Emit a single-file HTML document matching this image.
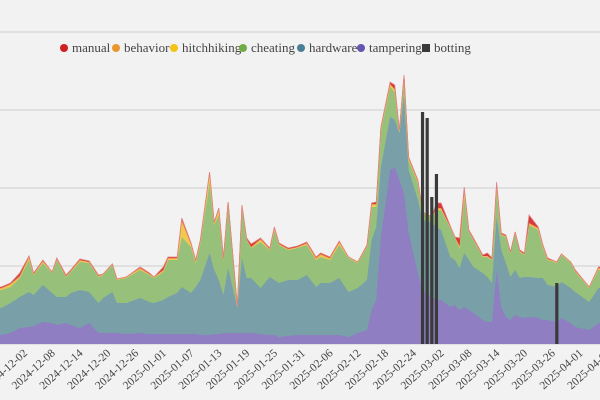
<!DOCTYPE html>
<html><head><meta charset="utf-8"><style>
html,body{margin:0;padding:0;background:#f2f2f2;}
svg{display:block;font-family:"Liberation Serif",serif;}
</style></head><body>
<svg id="chart" width="600" height="400" viewBox="0 0 600 400" xmlns="http://www.w3.org/2000/svg">
<rect x="0" y="0" width="600" height="400" fill="#f2f2f2"/>
<g id="grid"></g>
<g id="areas"></g>
<g id="bars"></g>
<g id="xaxis"></g>
<g id="legend" font-size="13" fill="#444"></g>
</svg>
<script>
const dates = ["2024-11-25","2024-11-26","2024-11-28","2024-11-30","2024-12-02","2024-12-03","2024-12-05","2024-12-07","2024-12-08","2024-12-10","2024-12-11","2024-12-13","2024-12-15","2024-12-17","2024-12-18","2024-12-20","2024-12-21","2024-12-23","2024-12-26","2024-12-28","2024-12-29","2024-12-31","2025-01-01","2025-01-03","2025-01-04","2025-01-06","2025-01-07","2025-01-08","2025-01-10","2025-01-11","2025-01-12","2025-01-13","2025-01-14","2025-01-16","2025-01-17","2025-01-18","2025-01-19","2025-01-21","2025-01-23","2025-01-24","2025-01-25","2025-01-27","2025-01-29","2025-01-31","2025-02-02","2025-02-03","2025-02-05","2025-02-07","2025-02-09","2025-02-11","2025-02-13","2025-02-14","2025-02-15","2025-02-16","2025-02-18","2025-02-19","2025-02-20","2025-02-21","2025-02-22","2025-02-24","2025-02-25","2025-02-27","2025-02-28","2025-03-01","2025-03-03","2025-03-04","2025-03-05","2025-03-06","2025-03-07","2025-03-08","2025-03-10","2025-03-11","2025-03-12","2025-03-13","2025-03-14","2025-03-15","2025-03-16","2025-03-17","2025-03-18","2025-03-19","2025-03-20","2025-03-22","2025-03-23","2025-03-24","2025-03-26","2025-03-27","2025-03-29","2025-03-30","2025-04-02","2025-04-04","2025-04-05"];
const tampering = [9,9,11,16,17,18,22,21,19,21,19,16,21,11,11,11,11,10,11,10,10,10,10,10,10,10,10,9,9,10,10,11,11,11,11,11,11,10,9,9,7,8,9,9,9,9,9,9,7,11,14,34,44,107,174,177,164,151,111,71,54,47,44,44,37,39,34,37,34,31,24,22,22,74,37,27,24,29,27,26,27,26,24,24,22,26,21,17,14,21,21];
const hardware = [27,27,30,31,35,31,37,30,28,26,32,38,31,30,35,41,30,31,35,32,31,34,37,41,47,41,47,55,82,64,54,38,65,25,75,55,55,46,58,55,54,56,55,60,48,52,52,57,45,45,50,70,73,70,53,47,47,96,63,73,70,74,73,70,50,45,42,54,50,46,47,45,39,53,57,54,43,45,39,41,40,40,42,35,35,36,35,35,28,35,35];
const cheating = [18,18,16,19,32,20,22,20,37,20,21,28,29,26,23,27,23,25,28,27,25,28,37,33,50,46,24,37,70,45,65,35,65,1,51,38,30,46,27,50,38,30,32,30,27,26,23,33,34,25,33,33,20,37,30,28,1,20,10,17,7,5,17,20,29,22,20,56,28,27,16,20,23,27,15,26,24,37,26,22,52,48,30,25,24,27,25,20,14,18,18];
const hitchhiking = [1,1,2,1,2,1,1,1,1,1,1,1,1,1,1,1,1,1,1,1,1,1,1,1,15,2,1,1,9,1,5,1,1,1,1,1,1,2,1,1,1,1,1,1,1,2,1,2,1,1,1,2,2,1,2,2,1,1,1,1,1,1,1,1,1,1,1,6,1,1,1,1,1,4,1,1,1,1,1,1,1,1,1,1,1,1,1,1,1,1,1];
const behavior = [1,1,1,1,1,0,1,0,0,0,0,1,0,0,0,0,0,0,1,0,0,1,1,1,2,1,1,1,1,1,1,0,0,0,0,0,0,1,0,1,0,0,0,1,1,1,1,1,0,0,0,1,1,1,1,1,0,0,1,1,0,0,1,1,0,0,1,1,0,0,0,0,0,1,0,0,0,0,0,0,1,1,1,0,0,0,0,0,0,1,1];
const manual = [1,1,1,3,1,1,1,0,1,1,1,1,1,1,0,0,0,0,1,1,0,3,1,1,2,1,1,1,1,1,1,1,0,0,1,1,3,1,1,1,1,1,1,1,1,1,1,1,0,0,1,1,2,1,2,4,1,1,1,1,0,0,5,5,1,0,8,3,1,1,1,3,1,3,1,1,0,0,1,1,8,1,1,1,0,0,0,1,0,1,1];
const bottingDates = ["2025-02-25","2025-02-26","2025-02-27","2025-02-28","2025-03-26"];
const bottingValues = [232,226,147,170,61];
const seriesNames = ["tampering","hardware","cheating","hitchhiking","behavior","manual"];
const gridValues = [0,78,156,234,312];

const NS="http://www.w3.org/2000/svg";
const DAY=86400000, T0=Date.UTC(2024,11,2);
function dayOf(s){const p=s.split("-");return (Date.UTC(+p[0],+p[1]-1,+p[2])-T0)/DAY;}
function xScale(s){return 29+4.63*dayOf(s);}
function yScale(v){return 344-v*(312/312);}
function mk(tag,attrs,parent){const e=document.createElementNS(NS,tag);for(const k in attrs)e.setAttribute(k,attrs[k]);parent.appendChild(e);return e;}

const grid=document.getElementById("grid");
gridValues.forEach(v=>{
  const l=mk("line",{x1:0,x2:600,y1:yScale(v),y2:yScale(v),stroke:"#cfcfcf","stroke-width":1},grid);
  
  
});

const series={tampering,hardware,cheating,hitchhiking,behavior,manual};
const fills={tampering:"#8f7ec2",hardware:"#79a0a8",cheating:"#97c07b",hitchhiking:"#f0ca4e",behavior:"#e89c4a",manual:"#d63a3a"};
const strokes={tampering:"#8f7ec2",hardware:"#79a0a8",cheating:"#9bc67c",hitchhiking:"#f2c94a",behavior:"#eea070",manual:"#e08080"};
const areas=document.getElementById("areas");
let base=dates.map(()=>0);
seriesNames.forEach(name=>{
  const vals=series[name];
  const top=base.map((b,i)=>b+vals[i]);
  let d="M"+dates.map((dt,i)=>xScale(dt).toFixed(2)+","+yScale(top[i]).toFixed(2)).join("L");
  for(let i=dates.length-1;i>=0;i--) d+="L"+xScale(dates[i]).toFixed(2)+","+yScale(base[i]).toFixed(2);
  d+="Z";
  const p=mk("path",{d:d,fill:fills[name],stroke:"none"},areas);
  
  
  const ln=mk("path",{d:"M"+dates.map((dt,i)=>xScale(dt).toFixed(2)+","+yScale(top[i]).toFixed(2)).join("L"),fill:"none",stroke:strokes[name],"stroke-width":0.8},areas);
  
  
  base=top;
});

const bars=document.getElementById("bars");
bottingDates.forEach((dt,i)=>{
  const x=xScale(dt);
  const r=mk("rect",{x:(x-1.6).toFixed(2),y:yScale(bottingValues[i]),width:3.2,height:344-yScale(bottingValues[i]),fill:"#3a3a3a"},bars);
  
  
});

const xaxis=document.getElementById("xaxis");
for(let d=-6;d<=126;d+=6){
  const dt=new Date(T0+d*DAY);
  const s=dt.toISOString().slice(0,10);
  const x=29+4.63*d;
  const t=mk("text",{x:0,y:0,transform:"translate("+(x-1).toFixed(2)+",354) rotate(-42)","text-anchor":"end","font-size":"11.5",fill:"#444"},xaxis);
  t.textContent=s;
  
  
}

const legend=document.getElementById("legend");
const legendItems=[["manual",64,"#d21f1f","c"],["behavior",116,"#e8962e","c"],["hitchhiking",174,"#f0c419","c"],["cheating",243,"#70ad47","c"],["hardware",301,"#4a7f96","c"],["tampering",361,"#6554b0","c"],["botting",426,"#3a3a3a","s"]];
legendItems.forEach(it=>{
  const g=mk("g",{},legend);
  
  
  if(it[3]==="c") mk("circle",{cx:it[1],cy:48,r:4,fill:it[2]},g);
  else mk("rect",{x:it[1]-4,y:44,width:8,height:8,fill:it[2]},g);
  const t=mk("text",{x:it[1]+8,y:52},g);
  t.textContent=it[0];
});
</script>
</body></html>
